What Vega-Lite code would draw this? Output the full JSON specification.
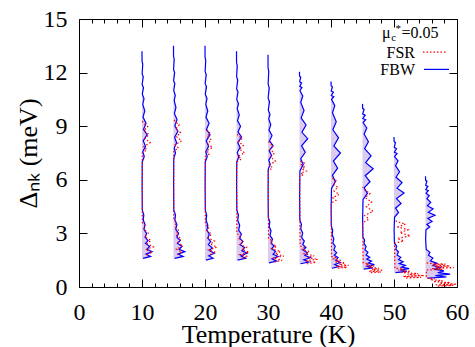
{
"$schema": "https://vega.github.io/schema/vega-lite/v6.json",
"width": 378, "height": 268,
"autosize": {"type": "none"},
"padding": {"left": 79, "top": 19, "right": 18, "bottom": 60},
"config": {
 "view": {"stroke": "black", "strokeWidth": 1},
 "style": {"guide-label": {"font": "Times New Roman"}, "guide-title": {"font": "Times New Roman"}},
 "axis": {"grid": false, "domain": false, "labelColor": "black", "titleColor": "black", "tickColor": "black", "labelOverlap": false, "labelFlush": false, "labelFont": "Times New Roman", "titleFont": "Times New Roman", "labelFontSize": 24, "titleFontSize": 26, "titleFontWeight": "normal"},
 "text": {"font": "Times New Roman"}
},
"datasets": {
"one": [{}],
"fbw": [
{"T":10,"x":10.16,"d":1.60},{"T":10,"x":11.36,"d":1.71},{"T":10,"x":10.64,"d":1.84},{"T":10,"x":11.60,"d":1.98},{"T":10,"x":10.80,"d":2.11},{"T":10,"x":11.20,"d":2.28},{"T":10,"x":10.56,"d":2.44},{"T":10,"x":10.96,"d":2.60},{"T":10,"x":10.48,"d":2.79},{"T":10,"x":10.72,"d":3.00},{"T":10,"x":10.32,"d":3.22},{"T":10,"x":10.48,"d":3.49},{"T":10,"x":10.19,"d":3.76},{"T":10,"x":10.29,"d":4.03},{"T":10,"x":10.05,"d":4.30},{"T":10,"x":10.02,"d":5.65},{"T":10,"x":10.04,"d":7.00},{"T":10,"x":10.36,"d":7.30},{"T":10,"x":10.12,"d":7.57},{"T":10,"x":10.56,"d":7.87},{"T":10,"x":10.20,"d":8.18},{"T":10,"x":10.80,"d":8.52},{"T":10,"x":10.24,"d":8.82},{"T":10,"x":10.64,"d":9.17},{"T":10,"x":10.16,"d":9.51},{"T":10,"x":10.44,"d":9.85},{"T":10,"x":10.12,"d":10.23},{"T":10,"x":10.32,"d":10.53},{"T":10,"x":10.04,"d":10.80},{"T":10,"x":10.24,"d":11.16},{"T":10,"x":10.02,"d":11.33},{"T":10,"x":10.20,"d":11.76},{"T":10,"x":10.02,"d":11.93},{"T":10,"x":10.12,"d":12.48},{"T":10,"x":10.01,"d":12.62},{"T":10,"x":10.00,"d":13.20},
{"T":15,"x":15.18,"d":1.60},{"T":15,"x":16.53,"d":1.71},{"T":15,"x":15.72,"d":1.84},{"T":15,"x":16.80,"d":1.98},{"T":15,"x":15.90,"d":2.11},{"T":15,"x":16.35,"d":2.28},{"T":15,"x":15.63,"d":2.44},{"T":15,"x":16.08,"d":2.60},{"T":15,"x":15.54,"d":2.79},{"T":15,"x":15.81,"d":3.00},{"T":15,"x":15.36,"d":3.22},{"T":15,"x":15.54,"d":3.49},{"T":15,"x":15.22,"d":3.76},{"T":15,"x":15.32,"d":4.03},{"T":15,"x":15.05,"d":4.30},{"T":15,"x":15.02,"d":5.75},{"T":15,"x":15.04,"d":7.20},{"T":15,"x":15.32,"d":7.50},{"T":15,"x":15.11,"d":7.77},{"T":15,"x":15.49,"d":8.07},{"T":15,"x":15.18,"d":8.38},{"T":15,"x":15.70,"d":8.72},{"T":15,"x":15.21,"d":9.02},{"T":15,"x":15.56,"d":9.37},{"T":15,"x":15.14,"d":9.71},{"T":15,"x":15.39,"d":10.05},{"T":15,"x":15.11,"d":10.43},{"T":15,"x":15.28,"d":10.73},{"T":15,"x":15.04,"d":11.00},{"T":15,"x":15.21,"d":11.38},{"T":15,"x":15.02,"d":11.55},{"T":15,"x":15.18,"d":12.00},{"T":15,"x":15.01,"d":12.18},{"T":15,"x":15.11,"d":12.75},{"T":15,"x":15.01,"d":12.90},{"T":15,"x":15.00,"d":13.50},
{"T":20,"x":20.15,"d":1.50},{"T":20,"x":21.28,"d":1.61},{"T":20,"x":20.60,"d":1.75},{"T":20,"x":21.50,"d":1.89},{"T":20,"x":20.75,"d":2.03},{"T":20,"x":21.13,"d":2.20},{"T":20,"x":20.53,"d":2.37},{"T":20,"x":20.90,"d":2.54},{"T":20,"x":20.45,"d":2.73},{"T":20,"x":20.68,"d":2.96},{"T":20,"x":20.30,"d":3.18},{"T":20,"x":20.45,"d":3.46},{"T":20,"x":20.18,"d":3.74},{"T":20,"x":20.27,"d":4.02},{"T":20,"x":20.05,"d":4.30},{"T":20,"x":20.02,"d":5.65},{"T":20,"x":20.04,"d":7.00},{"T":20,"x":20.36,"d":7.30},{"T":20,"x":20.12,"d":7.57},{"T":20,"x":20.56,"d":7.87},{"T":20,"x":20.20,"d":8.18},{"T":20,"x":20.80,"d":8.52},{"T":20,"x":20.24,"d":8.82},{"T":20,"x":20.64,"d":9.17},{"T":20,"x":20.16,"d":9.51},{"T":20,"x":20.44,"d":9.85},{"T":20,"x":20.12,"d":10.23},{"T":20,"x":20.32,"d":10.53},{"T":20,"x":20.04,"d":10.80},{"T":20,"x":20.24,"d":11.21},{"T":20,"x":20.02,"d":11.39},{"T":20,"x":20.20,"d":11.88},{"T":20,"x":20.02,"d":12.07},{"T":20,"x":20.12,"d":12.69},{"T":20,"x":20.01,"d":12.85},{"T":20,"x":20.00,"d":13.50},
{"T":25,"x":25.17,"d":1.50},{"T":25,"x":26.45,"d":1.61},{"T":25,"x":25.68,"d":1.75},{"T":25,"x":26.70,"d":1.89},{"T":25,"x":25.85,"d":2.03},{"T":25,"x":26.28,"d":2.20},{"T":25,"x":25.60,"d":2.37},{"T":25,"x":26.02,"d":2.54},{"T":25,"x":25.51,"d":2.73},{"T":25,"x":25.77,"d":2.96},{"T":25,"x":25.34,"d":3.18},{"T":25,"x":25.51,"d":3.46},{"T":25,"x":25.20,"d":3.74},{"T":25,"x":25.31,"d":4.02},{"T":25,"x":25.05,"d":4.30},{"T":25,"x":25.02,"d":5.65},{"T":25,"x":25.04,"d":7.00},{"T":25,"x":25.36,"d":7.28},{"T":25,"x":25.12,"d":7.53},{"T":25,"x":25.56,"d":7.81},{"T":25,"x":25.20,"d":8.09},{"T":25,"x":25.80,"d":8.40},{"T":25,"x":25.24,"d":8.68},{"T":25,"x":25.64,"d":9.00},{"T":25,"x":25.16,"d":9.31},{"T":25,"x":25.44,"d":9.63},{"T":25,"x":25.12,"d":9.98},{"T":25,"x":25.32,"d":10.26},{"T":25,"x":25.04,"d":10.50},{"T":25,"x":25.24,"d":10.91},{"T":25,"x":25.02,"d":11.09},{"T":25,"x":25.20,"d":11.58},{"T":25,"x":25.02,"d":11.77},{"T":25,"x":25.12,"d":12.39},{"T":25,"x":25.01,"d":12.55},{"T":25,"x":25.00,"d":13.20},
{"T":30,"x":30.16,"d":1.35},{"T":30,"x":31.36,"d":1.45},{"T":30,"x":30.64,"d":1.58},{"T":30,"x":31.60,"d":1.71},{"T":30,"x":30.80,"d":1.83},{"T":30,"x":31.20,"d":1.99},{"T":30,"x":30.56,"d":2.14},{"T":30,"x":30.96,"d":2.29},{"T":30,"x":30.48,"d":2.47},{"T":30,"x":30.72,"d":2.68},{"T":30,"x":30.32,"d":2.88},{"T":30,"x":30.48,"d":3.14},{"T":30,"x":30.19,"d":3.39},{"T":30,"x":30.29,"d":3.65},{"T":30,"x":30.05,"d":3.90},{"T":30,"x":30.02,"d":5.25},{"T":30,"x":30.04,"d":6.60},{"T":30,"x":30.36,"d":6.86},{"T":30,"x":30.12,"d":7.10},{"T":30,"x":30.56,"d":7.36},{"T":30,"x":30.20,"d":7.62},{"T":30,"x":30.80,"d":7.92},{"T":30,"x":30.24,"d":8.18},{"T":30,"x":30.64,"d":8.48},{"T":30,"x":30.16,"d":8.78},{"T":30,"x":30.44,"d":9.08},{"T":30,"x":30.12,"d":9.41},{"T":30,"x":30.32,"d":9.67},{"T":30,"x":30.04,"d":9.90},{"T":30,"x":30.24,"d":10.37},{"T":30,"x":30.02,"d":10.58},{"T":30,"x":30.20,"d":11.14},{"T":30,"x":30.02,"d":11.36},{"T":30,"x":30.12,"d":12.07},{"T":30,"x":30.01,"d":12.26},{"T":30,"x":30.00,"d":13.00},
{"T":35,"x":35.17,"d":1.30},{"T":35,"x":36.45,"d":1.40},{"T":35,"x":35.68,"d":1.52},{"T":35,"x":36.70,"d":1.64},{"T":35,"x":35.85,"d":1.77},{"T":35,"x":36.28,"d":1.91},{"T":35,"x":35.60,"d":2.06},{"T":35,"x":36.02,"d":2.21},{"T":35,"x":35.51,"d":2.38},{"T":35,"x":35.77,"d":2.57},{"T":35,"x":35.34,"d":2.77},{"T":35,"x":35.51,"d":3.02},{"T":35,"x":35.20,"d":3.26},{"T":35,"x":35.31,"d":3.51},{"T":35,"x":35.05,"d":3.75},{"T":35,"x":35.02,"d":5.13},{"T":35,"x":35.07,"d":6.50},{"T":35,"x":35.59,"d":6.86},{"T":35,"x":35.20,"d":7.18},{"T":35,"x":35.91,"d":7.54},{"T":35,"x":35.33,"d":7.90},{"T":35,"x":36.30,"d":8.30},{"T":35,"x":35.39,"d":8.66},{"T":35,"x":36.04,"d":9.07},{"T":35,"x":35.26,"d":9.47},{"T":35,"x":35.72,"d":9.88},{"T":35,"x":35.20,"d":10.33},{"T":35,"x":35.52,"d":10.69},{"T":35,"x":35.07,"d":11.00},{"T":35,"x":35.39,"d":11.16},{"T":35,"x":35.04,"d":11.23},{"T":35,"x":35.33,"d":11.42},{"T":35,"x":35.03,"d":11.49},{"T":35,"x":35.20,"d":11.74},{"T":35,"x":35.01,"d":11.80},{"T":35,"x":35.00,"d":12.05},
{"T":40,"x":40.15,"d":1.05},{"T":40,"x":41.28,"d":1.14},{"T":40,"x":40.60,"d":1.26},{"T":40,"x":41.50,"d":1.38},{"T":40,"x":40.75,"d":1.50},{"T":40,"x":41.13,"d":1.64},{"T":40,"x":40.53,"d":1.78},{"T":40,"x":40.90,"d":1.92},{"T":40,"x":40.45,"d":2.08},{"T":40,"x":40.68,"d":2.27},{"T":40,"x":40.30,"d":2.46},{"T":40,"x":40.45,"d":2.70},{"T":40,"x":40.18,"d":2.93},{"T":40,"x":40.27,"d":3.17},{"T":40,"x":40.05,"d":3.40},{"T":40,"x":40.02,"d":4.45},{"T":40,"x":40.08,"d":5.50},{"T":40,"x":40.68,"d":5.90},{"T":40,"x":40.23,"d":6.25},{"T":40,"x":41.05,"d":6.65},{"T":40,"x":40.38,"d":7.05},{"T":40,"x":41.50,"d":7.50},{"T":40,"x":40.45,"d":7.90},{"T":40,"x":41.20,"d":8.35},{"T":40,"x":40.30,"d":8.80},{"T":40,"x":40.83,"d":9.25},{"T":40,"x":40.23,"d":9.75},{"T":40,"x":40.60,"d":10.15},{"T":40,"x":40.08,"d":10.50},{"T":40,"x":40.45,"d":10.65},{"T":40,"x":40.05,"d":10.72},{"T":40,"x":40.38,"d":10.90},{"T":40,"x":40.03,"d":10.97},{"T":40,"x":40.23,"d":11.20},{"T":40,"x":40.02,"d":11.26},{"T":40,"x":40.00,"d":11.50},
{"T":45,"x":45.19,"d":1.00},{"T":45,"x":46.62,"d":1.07},{"T":45,"x":45.76,"d":1.16},{"T":45,"x":46.90,"d":1.25},{"T":45,"x":45.95,"d":1.34},{"T":45,"x":46.43,"d":1.45},{"T":45,"x":45.67,"d":1.56},{"T":45,"x":46.14,"d":1.67},{"T":45,"x":45.57,"d":1.79},{"T":45,"x":45.86,"d":1.94},{"T":45,"x":45.38,"d":2.08},{"T":45,"x":45.57,"d":2.26},{"T":45,"x":45.23,"d":2.44},{"T":45,"x":45.34,"d":2.62},{"T":45,"x":45.06,"d":2.80},{"T":45,"x":45.02,"d":3.85},{"T":45,"x":45.09,"d":4.90},{"T":45,"x":45.77,"d":5.24},{"T":45,"x":45.26,"d":5.55},{"T":45,"x":46.19,"d":5.89},{"T":45,"x":45.43,"d":6.23},{"T":45,"x":46.70,"d":6.62},{"T":45,"x":45.51,"d":6.96},{"T":45,"x":46.36,"d":7.35},{"T":45,"x":45.34,"d":7.74},{"T":45,"x":45.94,"d":8.13},{"T":45,"x":45.26,"d":8.56},{"T":45,"x":45.68,"d":8.90},{"T":45,"x":45.09,"d":9.20},{"T":45,"x":45.51,"d":9.36},{"T":45,"x":45.05,"d":9.43},{"T":45,"x":45.43,"d":9.62},{"T":45,"x":45.03,"d":9.69},{"T":45,"x":45.26,"d":9.94},{"T":45,"x":45.02,"d":10.00},{"T":45,"x":45.00,"d":10.25},
{"T":50,"x":50.24,"d":0.80},{"T":50,"x":52.04,"d":0.87},{"T":50,"x":50.96,"d":0.95},{"T":50,"x":52.40,"d":1.03},{"T":50,"x":51.20,"d":1.11},{"T":50,"x":51.80,"d":1.21},{"T":50,"x":50.84,"d":1.31},{"T":50,"x":51.44,"d":1.41},{"T":50,"x":50.72,"d":1.53},{"T":50,"x":51.08,"d":1.66},{"T":50,"x":50.48,"d":1.79},{"T":50,"x":50.72,"d":1.96},{"T":50,"x":50.29,"d":2.12},{"T":50,"x":50.43,"d":2.29},{"T":50,"x":50.07,"d":2.45},{"T":50,"x":50.02,"d":3.18},{"T":50,"x":50.08,"d":3.90},{"T":50,"x":50.72,"d":4.17},{"T":50,"x":50.24,"d":4.41},{"T":50,"x":51.12,"d":4.68},{"T":50,"x":50.40,"d":4.95},{"T":50,"x":51.60,"d":5.26},{"T":50,"x":50.48,"d":5.53},{"T":50,"x":51.28,"d":5.84},{"T":50,"x":50.32,"d":6.14},{"T":50,"x":50.88,"d":6.45},{"T":50,"x":50.24,"d":6.79},{"T":50,"x":50.64,"d":7.06},{"T":50,"x":50.08,"d":7.30},{"T":50,"x":50.48,"d":7.47},{"T":50,"x":50.05,"d":7.54},{"T":50,"x":50.40,"d":7.74},{"T":50,"x":50.03,"d":7.82},{"T":50,"x":50.24,"d":8.07},{"T":50,"x":50.02,"d":8.14},{"T":50,"x":50.00,"d":8.40},
{"T":55,"x":55.39,"d":0.50},{"T":55,"x":58.32,"d":0.56},{"T":55,"x":56.56,"d":0.64},{"T":55,"x":58.90,"d":0.72},{"T":55,"x":56.95,"d":0.80},{"T":55,"x":57.93,"d":0.90},{"T":55,"x":56.37,"d":1.00},{"T":55,"x":57.34,"d":1.09},{"T":55,"x":56.17,"d":1.20},{"T":55,"x":56.76,"d":1.33},{"T":55,"x":55.78,"d":1.46},{"T":55,"x":56.17,"d":1.62},{"T":55,"x":55.47,"d":1.78},{"T":55,"x":55.70,"d":1.94},{"T":55,"x":55.12,"d":2.10},{"T":55,"x":55.02,"d":2.65},{"T":55,"x":55.08,"d":3.20},{"T":55,"x":55.68,"d":3.36},{"T":55,"x":55.23,"d":3.51},{"T":55,"x":56.05,"d":3.67},{"T":55,"x":55.38,"d":3.84},{"T":55,"x":56.50,"d":4.02},{"T":55,"x":55.45,"d":4.18},{"T":55,"x":56.20,"d":4.37},{"T":55,"x":55.30,"d":4.55},{"T":55,"x":55.83,"d":4.74},{"T":55,"x":55.23,"d":4.94},{"T":55,"x":55.60,"d":5.11},{"T":55,"x":55.08,"d":5.25},{"T":55,"x":55.45,"d":5.39},{"T":55,"x":55.05,"d":5.46},{"T":55,"x":55.38,"d":5.63},{"T":55,"x":55.03,"d":5.70},{"T":55,"x":55.23,"d":5.92},{"T":55,"x":55.02,"d":5.97},{"T":55,"x":55.00,"d":6.20}
],
"fsr": [
{"T":10,"x":10.72,"d":1.80},{"T":10,"x":11.62,"d":1.94},{"T":10,"x":10.54,"d":2.09},{"T":10,"x":11.80,"d":2.25},{"T":10,"x":10.81,"d":2.43},{"T":10,"x":11.44,"d":2.61},{"T":10,"x":10.45,"d":2.81},{"T":10,"x":10.99,"d":3.02},{"T":10,"x":10.27,"d":3.24},{"T":10,"x":10.54,"d":3.42},{"T":10,"x":10.05,"d":3.60},{"T":10,"x":10.04,"d":7.50},{"T":10,"x":10.78,"d":7.68},{"T":10,"x":10.26,"d":7.86},{"T":10,"x":11.30,"d":8.08},{"T":10,"x":10.46,"d":8.31},{"T":10,"x":11.11,"d":8.54},{"T":10,"x":10.33,"d":8.76},{"T":10,"x":10.91,"d":8.98},{"T":10,"x":10.26,"d":9.16},{"T":10,"x":10.03,"d":9.30},
{"T":15,"x":15.60,"d":1.80},{"T":15,"x":16.35,"d":1.96},{"T":15,"x":15.45,"d":2.12},{"T":15,"x":16.50,"d":2.30},{"T":15,"x":15.68,"d":2.50},{"T":15,"x":16.20,"d":2.70},{"T":15,"x":15.38,"d":2.92},{"T":15,"x":15.83,"d":3.16},{"T":15,"x":15.23,"d":3.40},{"T":15,"x":15.45,"d":3.60},{"T":15,"x":15.05,"d":3.80},{"T":15,"x":15.04,"d":7.60},{"T":15,"x":15.78,"d":7.78},{"T":15,"x":15.26,"d":7.96},{"T":15,"x":16.30,"d":8.18},{"T":15,"x":15.46,"d":8.41},{"T":15,"x":16.11,"d":8.64},{"T":15,"x":15.33,"d":8.86},{"T":15,"x":15.91,"d":9.08},{"T":15,"x":15.26,"d":9.26},{"T":15,"x":15.03,"d":9.40},
{"T":20,"x":20.76,"d":1.80},{"T":20,"x":21.71,"d":1.94},{"T":20,"x":20.57,"d":2.07},{"T":20,"x":21.90,"d":2.23},{"T":20,"x":20.86,"d":2.40},{"T":20,"x":21.52,"d":2.57},{"T":20,"x":20.48,"d":2.75},{"T":20,"x":21.05,"d":2.96},{"T":20,"x":20.29,"d":3.16},{"T":20,"x":20.57,"d":3.33},{"T":20,"x":20.06,"d":3.50},{"T":20,"x":20.04,"d":7.30},{"T":20,"x":20.72,"d":7.46},{"T":20,"x":20.24,"d":7.62},{"T":20,"x":21.20,"d":7.81},{"T":20,"x":20.42,"d":8.02},{"T":20,"x":21.02,"d":8.23},{"T":20,"x":20.30,"d":8.42},{"T":20,"x":20.84,"d":8.61},{"T":20,"x":20.24,"d":8.77},{"T":20,"x":20.02,"d":8.90},
{"T":25,"x":25.80,"d":1.60},{"T":25,"x":26.80,"d":1.71},{"T":25,"x":25.60,"d":1.82},{"T":25,"x":27.00,"d":1.95},{"T":25,"x":25.90,"d":2.09},{"T":25,"x":26.60,"d":2.23},{"T":25,"x":25.50,"d":2.38},{"T":25,"x":26.10,"d":2.55},{"T":25,"x":25.30,"d":2.72},{"T":25,"x":25.60,"d":2.86},{"T":25,"x":25.06,"d":3.00},{"T":25,"x":25.04,"d":7.00},{"T":25,"x":25.78,"d":7.16},{"T":25,"x":25.26,"d":7.32},{"T":25,"x":26.30,"d":7.51},{"T":25,"x":25.46,"d":7.72},{"T":25,"x":26.11,"d":7.93},{"T":25,"x":25.33,"d":8.12},{"T":25,"x":25.91,"d":8.31},{"T":25,"x":25.26,"d":8.47},{"T":25,"x":25.03,"d":8.60},
{"T":30,"x":31.00,"d":1.40},{"T":30,"x":32.25,"d":1.50},{"T":30,"x":30.75,"d":1.61},{"T":30,"x":32.50,"d":1.73},{"T":30,"x":31.13,"d":1.86},{"T":30,"x":32.00,"d":1.99},{"T":30,"x":30.63,"d":2.13},{"T":30,"x":31.38,"d":2.28},{"T":30,"x":30.38,"d":2.44},{"T":30,"x":30.75,"d":2.57},{"T":30,"x":30.08,"d":2.70},{"T":30,"x":30.04,"d":6.50},{"T":30,"x":30.72,"d":6.67},{"T":30,"x":30.24,"d":6.84},{"T":30,"x":31.20,"d":7.04},{"T":30,"x":30.42,"d":7.27},{"T":30,"x":31.02,"d":7.49},{"T":30,"x":30.30,"d":7.69},{"T":30,"x":30.84,"d":7.89},{"T":30,"x":30.24,"d":8.06},{"T":30,"x":30.02,"d":8.20},
{"T":35,"x":36.16,"d":1.30},{"T":35,"x":37.61,"d":1.38},{"T":35,"x":35.87,"d":1.46},{"T":35,"x":37.90,"d":1.55},{"T":35,"x":36.31,"d":1.65},{"T":35,"x":37.32,"d":1.75},{"T":35,"x":35.73,"d":1.86},{"T":35,"x":36.60,"d":1.98},{"T":35,"x":35.44,"d":2.10},{"T":35,"x":35.87,"d":2.20},{"T":35,"x":35.09,"d":2.30},{"T":35,"x":35.03,"d":6.20},{"T":35,"x":35.66,"d":6.29},{"T":35,"x":35.22,"d":6.38},{"T":35,"x":36.10,"d":6.49},{"T":35,"x":35.39,"d":6.61},{"T":35,"x":35.94,"d":6.72},{"T":35,"x":35.28,"d":6.83},{"T":35,"x":35.77,"d":6.94},{"T":35,"x":35.22,"d":7.03},{"T":35,"x":35.02,"d":7.10},
{"T":40,"x":41.12,"d":1.05},{"T":40,"x":42.52,"d":1.10},{"T":40,"x":40.84,"d":1.15},{"T":40,"x":42.80,"d":1.21},{"T":40,"x":41.26,"d":1.28},{"T":40,"x":42.24,"d":1.34},{"T":40,"x":40.70,"d":1.41},{"T":40,"x":41.54,"d":1.49},{"T":40,"x":40.42,"d":1.57},{"T":40,"x":40.84,"d":1.64},{"T":40,"x":40.08,"d":1.70},{"T":40,"x":40.04,"d":4.70},{"T":40,"x":40.78,"d":4.85},{"T":40,"x":40.26,"d":5.00},{"T":40,"x":41.30,"d":5.18},{"T":40,"x":40.46,"d":5.38},{"T":40,"x":41.11,"d":5.57},{"T":40,"x":40.33,"d":5.75},{"T":40,"x":40.91,"d":5.93},{"T":40,"x":40.26,"d":6.08},{"T":40,"x":40.03,"d":6.20},
{"T":45,"x":46.32,"d":0.80},{"T":45,"x":47.97,"d":0.84},{"T":45,"x":45.99,"d":0.89},{"T":45,"x":48.30,"d":0.94},{"T":45,"x":46.49,"d":0.99},{"T":45,"x":47.64,"d":1.05},{"T":45,"x":45.83,"d":1.11},{"T":45,"x":46.82,"d":1.17},{"T":45,"x":45.50,"d":1.24},{"T":45,"x":45.99,"d":1.30},{"T":45,"x":45.10,"d":1.35},{"T":45,"x":45.05,"d":3.60},{"T":45,"x":46.02,"d":3.80},{"T":45,"x":45.34,"d":4.00},{"T":45,"x":46.70,"d":4.24},{"T":45,"x":45.60,"d":4.50},{"T":45,"x":46.45,"d":4.76},{"T":45,"x":45.43,"d":5.00},{"T":45,"x":46.19,"d":5.24},{"T":45,"x":45.34,"d":5.44},{"T":45,"x":45.03,"d":5.60},
{"T":50,"x":51.92,"d":0.50},{"T":50,"x":54.32,"d":0.54},{"T":50,"x":51.44,"d":0.59},{"T":50,"x":54.80,"d":0.64},{"T":50,"x":52.16,"d":0.69},{"T":50,"x":53.84,"d":0.75},{"T":50,"x":51.20,"d":0.81},{"T":50,"x":52.64,"d":0.87},{"T":50,"x":50.72,"d":0.94},{"T":50,"x":51.44,"d":1.00},{"T":50,"x":50.14,"d":1.05},{"T":50,"x":50.08,"d":2.45},{"T":50,"x":51.56,"d":2.58},{"T":50,"x":50.52,"d":2.71},{"T":50,"x":52.60,"d":2.87},{"T":50,"x":50.91,"d":3.04},{"T":50,"x":52.21,"d":3.20},{"T":50,"x":50.65,"d":3.36},{"T":50,"x":51.82,"d":3.52},{"T":50,"x":50.52,"d":3.65},{"T":50,"x":50.05,"d":3.75},
{"T":55,"x":56.96,"d":0.05},{"T":55,"x":59.41,"d":0.09},{"T":55,"x":56.47,"d":0.12},{"T":55,"x":59.90,"d":0.16},{"T":55,"x":57.21,"d":0.21},{"T":55,"x":58.92,"d":0.25},{"T":55,"x":56.23,"d":0.30},{"T":55,"x":57.70,"d":0.36},{"T":55,"x":55.74,"d":0.41},{"T":55,"x":56.47,"d":0.46},{"T":55,"x":55.15,"d":0.50},{"T":55,"x":55.14,"d":0.95},{"T":55,"x":57.70,"d":0.99},{"T":55,"x":55.90,"d":1.03},{"T":55,"x":59.50,"d":1.08},{"T":55,"x":56.58,"d":1.13},{"T":55,"x":58.83,"d":1.18},{"T":55,"x":56.13,"d":1.23},{"T":55,"x":58.15,"d":1.28},{"T":55,"x":55.90,"d":1.32},{"T":55,"x":55.09,"d":1.35}
]
},
"resolve": {"axis": {"x": "independent", "y": "independent"}},
"layer": [
{
 "data": {"name": "fbw"},
 "mark": {"type": "area", "orient": "horizontal", "color": "#b898e0", "opacity": 0.5, "clip": true},
 "encoding": {
  "x": {"field": "x", "type": "quantitative", "stack": null, "scale": {"domain": [0, 60], "nice": false, "zero": false},
   "axis": {"orient": "bottom", "values": [0,2,4,6,8,10,12,14,16,18,20,22,24,26,28,30,32,34,36,38,40,42,44,46,48,50,52,54,56,58,60],
    "labelExpr": "datum.value % 10 === 0 ? datum.label : ''",
    "labelFont": "Times New Roman", "titleFont": "Times New Roman",
    "tickSize": {"condition": {"test": "datum.value % 10 === 0", "value": -8}, "value": -4},
    "labelPadding": 21, "title": "Temperature (K)", "titlePadding": -7}},
  "x2": {"field": "T"},
  "y": {"field": "d", "type": "quantitative", "scale": {"domain": [0, 15], "nice": false, "zero": false},
   "axis": {"orient": "left", "values": [0,3,6,9,12,15], "tickSize": -8, "labelPadding": 20,
    "labelFont": "Times New Roman", "titleFont": "Times New Roman",
    "title": "Δₙₖ (meV)", "titlePadding": 2}},
  "detail": {"field": "T", "type": "nominal"}
 }
},
{
 "data": {"name": "fbw"},
 "mark": {"type": "line", "color": "#0000ff", "strokeWidth": 1.2, "clip": true},
 "encoding": {
  "x": {"field": "x", "type": "quantitative",
   "axis": {"orient": "top", "values": [0,2,4,6,8,10,12,14,16,18,20,22,24,26,28,30,32,34,36,38,40,42,44,46,48,50,52,54,56,58,60],
    "labels": false, "title": null,
    "tickSize": {"condition": {"test": "datum.value % 10 === 0", "value": -8}, "value": -4}}},
  "y": {"field": "d", "type": "quantitative",
   "axis": {"orient": "right", "values": [0,3,6,9,12,15], "labels": false, "title": null, "tickSize": -8}},
  "detail": {"field": "T", "type": "nominal"},
  "order": {"field": "d", "type": "quantitative"}
 }
},
{
 "data": {"name": "fsr"},
 "mark": {"type": "line", "color": "#ff0000", "strokeWidth": 1.2, "strokeDash": [1.5, 2], "clip": true},
 "encoding": {
  "x": {"field": "x", "type": "quantitative", "axis": null},
  "y": {"field": "d", "type": "quantitative", "axis": null},
  "detail": {"field": "T", "type": "nominal"},
  "order": {"field": "d", "type": "quantitative"}
 }
},
{
 "data": {"name": "one"},
 "mark": {"type": "text", "text": "μ", "align": "left", "baseline": "alphabetic", "fontSize": 16, "color": "black", "font": "Times New Roman"},
 "encoding": {"x": {"datum": 48.1, "type": "quantitative", "axis": null}, "y": {"datum": 13.93, "type": "quantitative", "axis": null}}
},
{
 "data": {"name": "one"},
 "mark": {"type": "text", "text": "c", "align": "left", "baseline": "alphabetic", "fontSize": 11, "color": "black", "font": "Times New Roman"},
 "encoding": {"x": {"datum": 49.55, "type": "quantitative", "axis": null}, "y": {"datum": 13.77, "type": "quantitative", "axis": null}}
},
{
 "data": {"name": "one"},
 "mark": {"type": "text", "text": "*", "align": "left", "baseline": "alphabetic", "fontSize": 11, "color": "black", "font": "Times New Roman"},
 "encoding": {"x": {"datum": 50.25, "type": "quantitative", "axis": null}, "y": {"datum": 14.3, "type": "quantitative", "axis": null}}
},
{
 "data": {"name": "one"},
 "mark": {"type": "text", "text": "=0.05", "align": "left", "baseline": "alphabetic", "fontSize": 16, "color": "black", "font": "Times New Roman"},
 "encoding": {"x": {"datum": 51.2, "type": "quantitative", "axis": null}, "y": {"datum": 13.93, "type": "quantitative", "axis": null}}
},
{
 "data": {"name": "one"},
 "mark": {"type": "text", "text": "FSR", "align": "right", "baseline": "alphabetic", "fontSize": 16, "color": "black", "font": "Times New Roman"},
 "encoding": {"x": {"datum": 53.33, "type": "quantitative", "axis": null}, "y": {"datum": 12.82, "type": "quantitative", "axis": null}}
},
{
 "data": {"name": "one"},
 "mark": {"type": "text", "text": "FBW", "align": "right", "baseline": "alphabetic", "fontSize": 16, "color": "black", "font": "Times New Roman"},
 "encoding": {"x": {"datum": 53.33, "type": "quantitative", "axis": null}, "y": {"datum": 11.86, "type": "quantitative", "axis": null}}
},
{
 "data": {"name": "one"},
 "mark": {"type": "rule", "color": "#ff0000", "strokeWidth": 1.2, "strokeDash": [1.5, 2]},
 "encoding": {"x": {"datum": 54.6, "type": "quantitative", "axis": null}, "x2": {"datum": 58.41}, "y": {"datum": 13.15, "type": "quantitative", "axis": null}}
},
{
 "data": {"name": "one"},
 "mark": {"type": "rule", "color": "#0000ff", "strokeWidth": 1.2},
 "encoding": {"x": {"datum": 54.76, "type": "quantitative", "axis": null}, "x2": {"datum": 58.73}, "y": {"datum": 12.18, "type": "quantitative", "axis": null}}
}
]
}
